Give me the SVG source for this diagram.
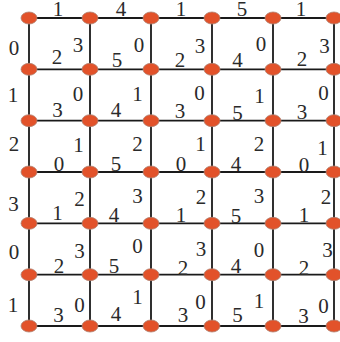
<svg xmlns="http://www.w3.org/2000/svg" width="340" height="342" viewBox="0 0 340 342">
<style>
.ln{stroke:#1a1a1a;stroke-width:1.8;fill:none}
.dt{fill:#E2522A;stroke:#B08070;stroke-width:0.8}
.lb text{font-size:21px;fill:#2a2a2a;text-anchor:middle}
</style>
<rect width="340" height="342" fill="#ffffff"/>
<g id="connectors">
<path class="ln" d="M29 18H334M29 69.3H334M29 120.7H334M29 172H334M29 223.3H334M29 274.7H334M29 326H334"/>
<path class="ln" d="M29 18V326M90 18V326M151 18V326M212 18V326M273 18V326M334 18V326"/>
</g>
<g id="labels" class="lb" font-family="'Liberation Serif', 'Times New Roman', serif">
<text x="58" y="15.5">1</text><text x="121" y="15.5">4</text><text x="181" y="15.5">1</text><text x="242" y="15.5">5</text><text x="301" y="15.5">1</text>
<text x="14" y="55">0</text><text x="13" y="102">1</text><text x="14" y="151">2</text><text x="13.5" y="210.5">3</text><text x="14" y="259">0</text><text x="13" y="311.5">1</text>
<text x="78" y="52">3</text><text x="57" y="64">2</text>
<text x="139" y="52">0</text><text x="117" y="66.5">5</text>
<text x="200" y="53">3</text><text x="180" y="67">2</text>
<text x="261" y="51">0</text><text x="237.5" y="67">4</text>
<text x="324.5" y="53">3</text><text x="302" y="66">2</text>
<text x="78" y="101">0</text><text x="57.5" y="116.5">3</text>
<text x="137.5" y="100.5">1</text><text x="116" y="117">4</text>
<text x="199.5" y="100">0</text><text x="180" y="118">3</text>
<text x="259.5" y="103">1</text><text x="237.5" y="120">5</text>
<text x="323.5" y="100">0</text><text x="302" y="119">3</text>
<text x="78.5" y="151.5">1</text><text x="59" y="171">0</text>
<text x="137.5" y="150.5">2</text><text x="116" y="171">5</text>
<text x="200.5" y="150.5">1</text><text x="181" y="171">0</text>
<text x="259" y="150.5">2</text><text x="236" y="171">4</text>
<text x="322.5" y="155">1</text><text x="304" y="172">0</text>
<text x="79.5" y="206">2</text><text x="57.5" y="220">1</text>
<text x="137.5" y="202.5">3</text><text x="114" y="222">4</text>
<text x="201" y="204">2</text><text x="181" y="222">1</text>
<text x="259" y="203">3</text><text x="236" y="222.5">5</text>
<text x="326" y="204">2</text><text x="304" y="221.5">1</text>
<text x="79.5" y="258">3</text><text x="59" y="272.5">2</text>
<text x="137.5" y="252.5">0</text><text x="114" y="273">5</text>
<text x="201" y="256">3</text><text x="183" y="275">2</text>
<text x="259" y="256.5">0</text><text x="236" y="273">4</text>
<text x="327.5" y="257">3</text><text x="304" y="275">2</text>
<text x="79.5" y="311.5">0</text><text x="58.5" y="321.5">3</text>
<text x="137.5" y="304">1</text><text x="116" y="320.5">4</text>
<text x="200.5" y="309">0</text><text x="183" y="321.5">3</text>
<text x="259" y="308">1</text><text x="237.5" y="321.5">5</text>
<text x="323.5" y="312.5">0</text><text x="303.5" y="322.5">3</text>
</g>
<defs><ellipse id="d" class="dt" rx="8" ry="6"/></defs>
<g id="nodes">
<g id="r0"><use href="#d" x="29" y="18"/><use href="#d" x="90" y="18"/><use href="#d" x="151" y="18"/><use href="#d" x="212" y="18"/><use href="#d" x="273" y="18"/><use href="#d" x="334" y="18"/></g>
<g id="r1"><use href="#d" x="29" y="69.3"/><use href="#d" x="90" y="69.3"/><use href="#d" x="151" y="69.3"/><use href="#d" x="212" y="69.3"/><use href="#d" x="273" y="69.3"/><use href="#d" x="334" y="69.3"/></g>
<g id="r2"><use href="#d" x="29" y="120.7"/><use href="#d" x="90" y="120.7"/><use href="#d" x="151" y="120.7"/><use href="#d" x="212" y="120.7"/><use href="#d" x="273" y="120.7"/><use href="#d" x="334" y="120.7"/></g>
<g id="r3"><use href="#d" x="29" y="172"/><use href="#d" x="90" y="172"/><use href="#d" x="151" y="172"/><use href="#d" x="212" y="172"/><use href="#d" x="273" y="172"/><use href="#d" x="334" y="172"/></g>
<g id="r4"><use href="#d" x="29" y="223.3"/><use href="#d" x="90" y="223.3"/><use href="#d" x="151" y="223.3"/><use href="#d" x="212" y="223.3"/><use href="#d" x="273" y="223.3"/><use href="#d" x="334" y="223.3"/></g>
<g id="r5"><use href="#d" x="29" y="274.7"/><use href="#d" x="90" y="274.7"/><use href="#d" x="151" y="274.7"/><use href="#d" x="212" y="274.7"/><use href="#d" x="273" y="274.7"/><use href="#d" x="334" y="274.7"/></g>
<g id="r6"><use href="#d" x="29" y="326"/><use href="#d" x="90" y="326"/><use href="#d" x="151" y="326"/><use href="#d" x="212" y="326"/><use href="#d" x="273" y="326"/><use href="#d" x="334" y="326"/></g>
</g>
</svg>
